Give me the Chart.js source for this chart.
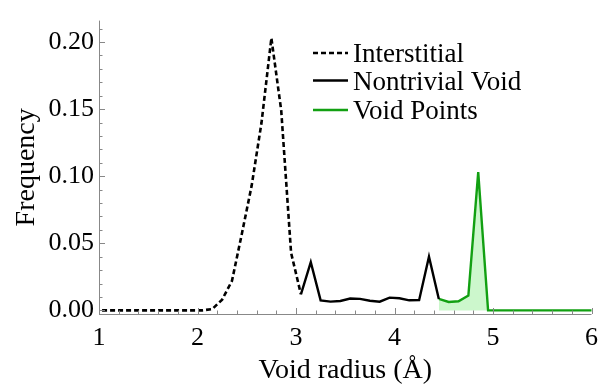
<!DOCTYPE html>
<html>
<head>
<meta charset="UTF-8">
<title>Void radius</title>
<script src="https://cdn.jsdelivr.net/npm/chart.js"></script>
<style>
  body { margin: 0; background: #fff; }
</style>
</head>
<body>
<canvas id="myChart" width="607" height="384"></canvas>
<script>
// bin centres (Å)
var radius = [0.95, 1.05, 1.15, 1.25, 1.35, 1.45, 1.55, 1.65, 1.75, 1.85, 1.95, 2.05,
  2.15, 2.25, 2.35, 2.45, 2.55, 2.65, 2.75, 2.85, 2.95, 3.05,
  3.15, 3.25, 3.35, 3.45, 3.55, 3.65, 3.75, 3.85, 3.95, 4.05, 4.15, 4.25, 4.35, 4.45,
  4.55, 4.65, 4.75, 4.85, 4.95, 5.05, 5.15, 5.25, 5.35, 5.45, 5.55, 5.65, 5.75, 5.85, 5.95, 6.05];

var interstitial = [0, 0, 0, 0, 0, 0, 0, 0, 0, 0, 0, 0,
  0.001, 0.008, 0.022, 0.057, 0.093, 0.14, 0.203, 0.149, 0.043, 0.012,
  null, null, null, null, null, null, null, null, null, null, null, null, null, null,
  null, null, null, null, null, null, null, null, null, null, null, null, null, null, null, null];

var nontrivial = [null, null, null, null, null, null, null, null, null, null, null, null,
  null, null, null, null, null, null, null, null, null, 0.012,
  0.036, 0.0075, 0.0065, 0.007, 0.0088, 0.0086, 0.0072, 0.0065, 0.0095, 0.009, 0.0075, 0.0076, 0.040, 0.0085,
  null, null, null, null, null, null, null, null, null, null, null, null, null, null, null, null];

var voidPoints = [null, null, null, null, null, null, null, null, null, null, null, null,
  null, null, null, null, null, null, null, null, null, null,
  null, null, null, null, null, null, null, null, null, null, null, null, null, 0.0085,
  0.0063, 0.0068, 0.011, 0.103, 0, 0, 0, 0, 0, 0, 0, 0, 0, 0, 0, 0];

var xTicks = [1, 2, 3, 4, 5, 6];
var yTicks = [0, 0.05, 0.10, 0.15, 0.20];

function pts(values) {
  return values.map(function (v, i) { return { x: radius[i], y: v }; });
}

var serif = 'Liberation Serif, Times New Roman, serif';

// Mathematica-like frame: grey axes with inward ticks
var frameAxes = {
  id: 'frameAxes',
  afterDatasetsDraw: function (chart) {
    var ctx = chart.ctx, a = chart.chartArea;
    var xs = chart.scales.x, ys = chart.scales.y;
    ctx.save();
    ctx.strokeStyle = '#888';
    ctx.lineWidth = 1;
    ctx.beginPath();
    ctx.moveTo(a.left, a.bottom + 0.5); ctx.lineTo(a.right, a.bottom + 0.5);
    ctx.moveTo(a.left + 0.5, a.top); ctx.lineTo(a.left + 0.5, a.bottom + 0.5);
    for (var i = 0; i <= 25; i++) {
      var v = 1 + i * 0.2;
      var px = Math.round(xs.getPixelForValue(v)) + 0.5;
      var len = (i % 5 === 0) ? 6 : 3.5;
      ctx.moveTo(px, a.bottom); ctx.lineTo(px, a.bottom - len);
    }
    for (var j = 0; j <= 21; j++) {
      var w = j * 0.01;
      var py = Math.round(ys.getPixelForValue(w)) + 0.5;
      var l2 = (j % 5 === 0) ? 6 : 3.5;
      ctx.moveTo(a.left, py); ctx.lineTo(a.left + l2, py);
    }
    ctx.stroke();
    ctx.restore();
  }
};

// legend drawn inside the plot, top right
var insideLegend = {
  id: 'insideLegend',
  afterDraw: function (chart) {
    var ctx = chart.ctx;
    var rows = [53, 80.5, 110];
    ctx.save();
    ctx.font = '27px ' + serif;
    ctx.fillStyle = '#000';
    ctx.textBaseline = 'alphabetic';
    chart.data.datasets.forEach(function (ds, i) {
      var y = rows[i];
      ctx.beginPath();
      ctx.strokeStyle = ds.borderColor;
      ctx.lineWidth = ds.borderWidth;
      ctx.setLineDash(ds.borderDash || []);
      ctx.moveTo(313, y); ctx.lineTo(348, y);
      ctx.stroke();
      ctx.setLineDash([]);
      ctx.fillText(ds.label, 353, y + 9);
    });
    ctx.restore();
  }
};

var ctx = document.getElementById('myChart').getContext('2d');

var myChart = new Chart(ctx, {
  type: 'line',
  data: {
    datasets: [{
      label: 'Interstitial',
      data: pts(interstitial),
      borderColor: '#000',
      borderWidth: 2.6,
      borderDash: [5, 3],
      pointRadius: 0,
      fill: false,
      clip: 0
    }, {
      label: 'Nontrivial Void',
      data: pts(nontrivial),
      borderColor: '#000',
      borderWidth: 2.4,
      pointRadius: 0,
      fill: false,
      clip: 0
    }, {
      label: 'Void Points',
      data: pts(voidPoints),
      borderColor: '#12a012',
      backgroundColor: '#ccf7cc',
      borderWidth: 2.4,
      pointRadius: 0,
      fill: 'origin',
      clip: 0
    }]
  },
  options: {
    responsive: false,
    animation: false,
    devicePixelRatio: 1,
    layout: { padding: { top: 10, right: 14, left: 0, bottom: 0 } },
    plugins: {
      legend: { display: false },
      tooltip: { enabled: false }
    },
    scales: {
      x: {
        type: 'linear',
        min: 1,
        max: 6,
        afterFit: function (s) { s.height = 70; },
        afterBuildTicks: function (s) { s.ticks = xTicks.map(function (v) { return { value: v }; }); },
        grid: { display: false, drawTicks: false },
        border: { display: false },
        ticks: { color: '#000', padding: 9, font: { family: serif, size: 26 } },
        title: { display: true, text: 'Void radius (Å)', color: '#000', padding: { top: 0, bottom: -3 }, font: { family: serif, size: 28 } }
      },
      y: {
        type: 'linear',
        min: -0.0027,
        max: 0.216,
        afterFit: function (s) { s.width = 99; },
        afterBuildTicks: function (s) { s.ticks = yTicks.map(function (v) { return { value: v }; }); },
        grid: { display: false, drawTicks: false },
        border: { display: false },
        ticks: {
          color: '#000', padding: 5, font: { family: serif, size: 26 },
          callback: function (v) { return v.toFixed(2); }
        },
        title: { display: true, text: 'Frequency', color: '#000', padding: { top: 10, bottom: 0 }, font: { family: serif, size: 28 } }
      }
    }
  },
  plugins: [frameAxes, insideLegend]
});
</script>
</body>
</html>
